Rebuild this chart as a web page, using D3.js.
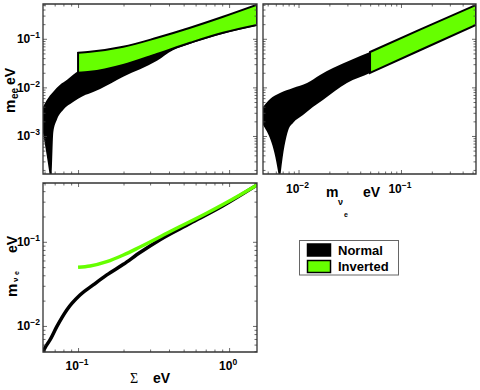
<!DOCTYPE html>
<html>
<head>
<meta charset="utf-8">
<script src="https://cdn.jsdelivr.net/npm/d3@7"></script>
<style>
  body { margin: 0; background: #fff; }
  svg text { font-family: "Liberation Sans", Arial, sans-serif; font-weight: bold; fill: #000; }
</style>
</head>
<body>
<svg id="chart" width="480" height="390"></svg>
<script>
// axis ranges, eV
var sumDomain = [0.0586, 1.53],
    meeDomain = [1.65e-4, 0.52],
    mnueDomainX = [0.0045, 0.54],
    mnueDomainY = [0.0049, 0.50];

var seriesNames = ["Normal", "Inverted"];
var seriesColors = ["#000000", "#66ff00"];

// top-left: m_ee vs Sigma, [Sigma, m_ee]
var nhMeeSumUpper = [[0.0586,0.00396],[0.0621,0.00553],[0.0683,0.00807],[0.0760,0.0113],[0.0846,0.0143],
  [0.0927,0.0181],[0.1015,0.0219],[0.12,0.025],[0.199,0.04],[0.333,0.065],[0.552,0.11],[0.912,0.18],[1.53,0.3]];
var nhMeeSumLower = [[0.0586,0.00115],[0.0646,1.73e-4],[0.0662,1e-4],[0.0670,1.73e-4],[0.0686,0.00121],
  [0.0723,0.00214],[0.0796,0.00344],[0.0927,0.00502],[0.108,0.00668],[0.126,0.00807],[0.140,0.0093],
  [0.199,0.0165],[0.333,0.0352],[0.425,0.0579],[0.552,0.0789],[0.912,0.127],[1.53,0.185]];
var ihMeeSumUpper = [[0.1,0.0514],[0.12,0.0539],[0.199,0.0684],[0.333,0.105],[0.552,0.169],[0.912,0.284],[1.53,0.502]];
var ihMeeSumLower = [[0.1,0.0199],[0.12,0.0209],[0.199,0.0291],[0.333,0.049],[0.552,0.0828],[0.912,0.133],[1.53,0.192]];

// top-right: m_ee vs m_nue, [m_nue, m_ee]
var nhMeeMnueUpper = [[0.0045,0.00395],[0.00527,0.00577],[0.00659,0.00766],[0.00883,0.0097],[0.0121,0.0123],
  [0.0162,0.0180],[0.0217,0.025],[0.0499,0.0535],[0.153,0.14],[0.54,0.35]];
var nhMeeMnueLower = [[0.0045,0.00168],[0.00635,1.73e-4],[0.00652,1e-4],[0.0067,1.73e-4],[0.00795,0.00133],
  [0.00883,0.00185],[0.01106,0.0027],[0.0138,0.00395],[0.0173,0.0055],[0.0297,0.0123],[0.0499,0.0198],[0.54,0.195]];
var ihMeeMnueUpper = [[0.0499,0.0535],[0.153,0.155],[0.54,0.496]];
var ihMeeMnueLower = [[0.0499,0.0198],[0.153,0.0582],[0.54,0.192]];

// bottom-left: m_nue vs Sigma, [Sigma, m_nue]
var nhMnueSum = [[0.0586,0.0049],[0.0614,0.00578],[0.0652,0.00681],[0.0723,0.0098],[0.0842,0.0155],[0.103,0.0233],
  [0.126,0.0307],[0.155,0.0404],[0.1995,0.054],[0.257,0.0745],[0.349,0.106],[0.551,0.165],[0.911,0.268],[1.53,0.473]];
var ihMnueSum = [[0.1,0.0498],[0.12,0.0515],[0.155,0.058],[0.1995,0.0697],[0.257,0.0868],[0.426,0.138],
  [0.714,0.22],[1.18,0.36],[1.53,0.473]];

var svg = d3.select("#chart");
svg.append("rect").attr("width", 480).attr("height", 390).attr("fill", "#fff");
var defs = svg.append("defs");

var panels = {
  tl: {x0: 43, x1: 257, y0: 4, y1: 174},
  tr: {x0: 263, x1: 476, y0: 4, y1: 174},
  bl: {x0: 43, x1: 257, y0: 183, y1: 352}
};

function isMajor(v) {
  var l = Math.log10(v);
  return Math.abs(l - Math.round(l)) < 1e-9;
}

// box + inward ticks on all 4 sides
function frame(p, xs, ys) {
  var xt = xs.ticks(), yt = ys.ticks();
  var xMaj = xt.filter(isMajor), xMin = xt.filter(function(v){ return !isMajor(v); });
  var yMaj = yt.filter(isMajor), yMin = yt.filter(function(v){ return !isMajor(v); });
  var sides = [
    [d3.axisBottom, 0, p.y1, xMaj, xMin, xs],
    [d3.axisTop, 0, p.y0, xMaj, xMin, xs],
    [d3.axisLeft, p.x0, 0, yMaj, yMin, ys],
    [d3.axisRight, p.x1, 0, yMaj, yMin, ys]
  ];
  sides.forEach(function(s) {
    [[s[3], 4], [s[4], 2.5]].forEach(function(t) {
      var a = svg.append("g")
        .attr("transform", "translate(" + s[1] + "," + s[2] + ")")
        .call(s[0](s[5]).tickValues(t[0]).tickSize(-t[1]).tickFormat(""));
      a.select(".domain").remove();
      a.selectAll("text").remove();
      a.selectAll("line").attr("stroke", "#444").attr("stroke-width", 0.8);
    });
  });
  svg.append("path")
    .attr("d", "M" + p.x0 + "," + p.y0 + "H" + p.x1 + "V" + p.y1 + "H" + p.x0 + "Z")
    .attr("fill", "none").attr("stroke", "#333").attr("stroke-width", 1.3);
}

function clipFor(id, p) {
  defs.append("clipPath").attr("id", "clip-" + id)
    .append("rect").attr("x", p.x0).attr("y", p.y0)
    .attr("width", p.x1 - p.x0).attr("height", p.y1 - p.y0);
  return svg.append("g").attr("clip-path", "url(#clip-" + id + ")");
}

// closed band: upper edge left->right, lower edge right->left
function band(g, xs, ys, upper, lower, fill, stroke) {
  var edge = d3.line()
    .x(function(d){ return xs(d[0]); })
    .y(function(d){ return ys(d[1]); })
    .curve(d3.curveMonotoneX);
  var d = edge(upper) + "L" + edge(lower.slice().reverse()).slice(1) + "Z";
  g.append("path")
    .attr("d", d)
    .attr("fill", fill)
    .attr("stroke", stroke || "none")
    .attr("stroke-width", stroke ? 2 : 0)
    .attr("stroke-linejoin", "miter");
}

// 10^n labels
function powLabel(x, y, exp, anchor) {
  var t = svg.append("text").attr("x", x).attr("y", y)
    .attr("text-anchor", anchor).style("font-size", "12px");
  t.append("tspan").text("10");
  t.append("tspan").attr("dy", -5).style("font-size", "8.5px").text(exp < 0 ? "\u2212" + (-exp) : exp);
}

// ---------- top-left ----------
var p = panels.tl;
var xSumT = d3.scaleLog().domain(sumDomain).range([p.x0, p.x1]);
var yMeeL = d3.scaleLog().domain(meeDomain).range([p.y1, p.y0]);
var gTL = clipFor("tl", p);
band(gTL, xSumT, yMeeL, nhMeeSumUpper, nhMeeSumLower, seriesColors[0]);
band(gTL, xSumT, yMeeL, ihMeeSumUpper, ihMeeSumLower, seriesColors[1], "#000");
frame(p, xSumT, yMeeL);
[-1, -2, -3].forEach(function(e) { powLabel(40, yMeeL(Math.pow(10, e)) + 4.5, e, "end"); });

// ---------- top-right ----------
p = panels.tr;
var xMnue = d3.scaleLog().domain(mnueDomainX).range([p.x0, p.x1]);
var yMeeR = d3.scaleLog().domain(meeDomain).range([p.y1, p.y0]);
var gTR = clipFor("tr", p);
band(gTR, xMnue, yMeeR, nhMeeMnueUpper, nhMeeMnueLower, seriesColors[0]);
band(gTR, xMnue, yMeeR, ihMeeMnueUpper, ihMeeMnueLower, seriesColors[1], "#000");
frame(p, xMnue, yMeeR);
[-2, -1].forEach(function(e) { powLabel(xMnue(Math.pow(10, e)) - 1, p.y1 + 19, e, "middle"); });

// ---------- bottom-left ----------
p = panels.bl;
var xSumB = d3.scaleLog().domain(sumDomain).range([p.x0, p.x1]);
var yMnue = d3.scaleLog().domain(mnueDomainY).range([p.y1, p.y0]);
var gBL = clipFor("bl", p);
var curve = d3.line()
  .x(function(d){ return xSumB(d[0]); })
  .y(function(d){ return yMnue(d[1]); })
  .curve(d3.curveMonotoneX);
gBL.append("path").attr("d", curve(nhMnueSum))
  .attr("fill", "none").attr("stroke", seriesColors[0]).attr("stroke-width", 3.5);
gBL.append("path").attr("d", curve(ihMnueSum))
  .attr("fill", "none").attr("stroke", seriesColors[1]).attr("stroke-width", 3.5);
frame(p, xSumB, yMnue);
[-1, -2].forEach(function(e) { powLabel(40, yMnue(Math.pow(10, e)) + 4.5, e, "end"); });
[-1, 0].forEach(function(e) { powLabel(xSumB(Math.pow(10, e)) - 1, p.y1 + 18, e, "middle"); });

// ---------- axis titles ----------
// m_ee eV (top-left, rotated)
var tTL = svg.append("g").attr("transform", "translate(15,113) rotate(-90)");
tTL.append("text").attr("x", 0).attr("y", 0).style("font-size", "15px").text("m");
tTL.append("text").attr("x", 14).attr("y", 3).style("font-size", "10px").text("ee");
tTL.append("text").attr("x", 28).attr("y", 0).style("font-size", "14px").text("eV");

// m_nue eV (top-right, below)
svg.append("text").attr("x", 326).attr("y", 197).style("font-size", "14px").text("m");
svg.append("text").attr("x", 338).attr("y", 205).style("font-size", "9px").text("\u03bd");
svg.append("text").attr("x", 344).attr("y", 217).style("font-size", "7px").text("e");
svg.append("text").attr("x", 363).attr("y", 197).style("font-size", "14px").text("eV");

// m_nue eV (bottom-left, rotated)
var tBL = svg.append("g").attr("transform", "translate(17,297) rotate(-90)");
tBL.append("text").attr("x", 0).attr("y", 0).style("font-size", "15px").text("m");
tBL.append("text").attr("x", 15).attr("y", 1).style("font-size", "8px").text("\u03bd");
tBL.append("text").attr("x", 22).attr("y", 2).style("font-size", "7px").text("e");
tBL.append("text").attr("x", 44).attr("y", 0).style("font-size", "14px").text("eV");

// Sigma eV (bottom-left, below)
svg.append("text").attr("x", 130).attr("y", 383)
  .style("font-family", "'Liberation Serif', 'Times New Roman', serif")
  .style("font-weight", "normal").style("font-size", "14px").text("\u03a3");
svg.append("text").attr("x", 153).attr("y", 383).style("font-size", "14px").text("eV");

// ---------- legend ----------
var lg = svg.append("g");
lg.append("rect").attr("x", 299.5).attr("y", 240.5).attr("width", 99).attr("height", 34.5)
  .attr("fill", "#fff").attr("stroke", "#666").attr("stroke-width", 1);
seriesNames.forEach(function(name, i) {
  lg.append("rect").attr("x", 307.5).attr("y", 244 + i * 16.5).attr("width", 23).attr("height", 12)
    .attr("fill", seriesColors[i]).attr("stroke", "#000").attr("stroke-width", 1.5);
  lg.append("text").attr("x", 338).attr("y", 255 + i * 15.5).style("font-size", "13px").text(name);
});
</script>
</body>
</html>
